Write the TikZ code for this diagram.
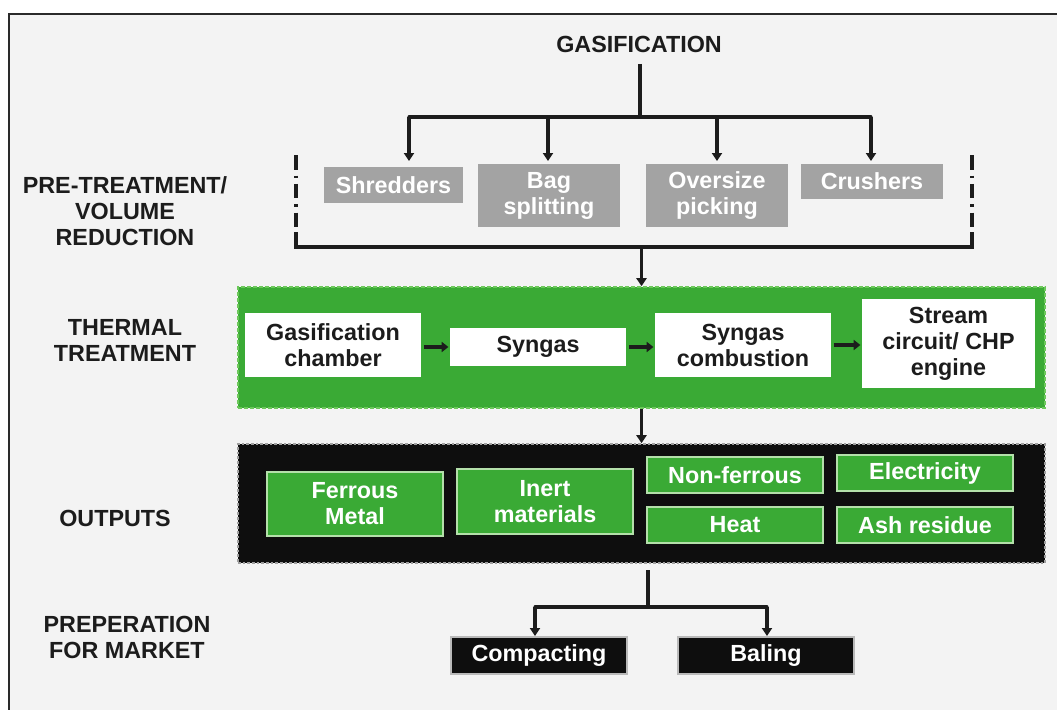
\documentclass[tikz,border=0pt]{standalone}
\usepackage{fontspec}
\setmainfont{Liberation Sans}
\usetikzlibrary{arrows.meta}
\definecolor{bg}{HTML}{F3F3F3}
\definecolor{frame}{HTML}{2A2A2A}
\definecolor{ink}{HTML}{1C1C1C}
\definecolor{gbox}{HTML}{A3A3A3}
\definecolor{grn}{HTML}{3AAA35}
\definecolor{grnedge}{HTML}{6CC85A}
\definecolor{grnline}{HTML}{B4E0AA}
\definecolor{blk}{HTML}{0E0E0E}
\tikzset{
  every node/.style={font=\bfseries\fontsize{17.5}{19.5}\selectfont, align=center, inner sep=0pt},
  sz/.style 2 args={minimum width=#1*0.75pt, minimum height=#2*0.75pt},
  line/.style={draw=ink, line width=2.3pt},
  arr/.style={draw=ink, line width=2.3pt, -{Triangle[width=7.5pt,length=6pt]}},
  sarr/.style={draw=ink, line width=2.6pt, -{Triangle[width=7.5pt,length=5pt]}},
  label/.style={text=ink},
  graybox/.style={fill=gbox, text=white},
  whitebox/.style={fill=white, text=ink},
  thermbox/.style={fill=grn, draw=grnedge, line width=1.2pt, dash pattern=on 3pt off 1.5pt},
  outbox/.style={fill=blk, draw=gray!75, line width=1.2pt, dash pattern=on 2pt off 1.5pt},
  greenbox/.style={fill=grn, draw=grnline, line width=1.3pt, text=white},
  blackbox/.style={fill=blk, draw=gray!55, line width=0.8pt, text=white},
}
\begin{document}
\begin{tikzpicture}[x=0.75pt,y=-0.75pt]
\useasboundingbox (0,0) rectangle (1057,710);
% frame and background
\fill[bg] (9,14) rectangle (1057,710);
\draw[draw=frame, line width=2.2pt] (9,710) -- (9,14) -- (1057,14);

% left labels
\node[label] (lpre) at (125,211) {PRE-TREATMENT/\\VOLUME\\REDUCTION};
\node[label] (lthe) at (125,340) {THERMAL\\TREATMENT};
\node[label] (lout) at (115,518) {OUTPUTS};
\node[label] (lmkt) at (127,637) {PREPERATION\\FOR MARKET};

% title
\node[label] (gas) at (639,44) {GASIFICATION};

% pre-treatment boxes
\node[graybox, sz={139}{36}] (shred) at (393.5,185) {Shredders};
\node[graybox, sz={142}{63}] (bag) at (549,195.5) {Bag\\splitting};
\node[graybox, sz={142}{63}] (over) at (717,195.5) {Oversize\\picking};
\node[graybox, sz={142}{35}] (crush) at (872,181.5) {Crushers};

% top tree
\coordinate (g1) at (640,64);
\coordinate (g2) at (640,117);
\coordinate (b1) at (409,117);
\coordinate (b4) at (871,117);
\coordinate (a1) at (409,161);
\coordinate (a2) at (548,161);
\coordinate (a3) at (717,161);
\coordinate (a4) at (871,161);
\draw[line] (g1) -- (g2);
\draw[line, line cap=round] (b1) -- (b4);
\draw[arr] (b1) -- (a1);
\draw[arr] (a2 |- b1) -- (a2);
\draw[arr] (a3 |- b1) -- (a3);
\draw[arr] (b4) -- (a4);

% bracket
\draw[line, dash pattern=on 11pt off 4.5pt on 1.6pt off 4.5pt] (296,155) -- (296,233);
\draw[line, dash pattern=on 11pt off 4.5pt on 1.6pt off 4.5pt] (972,155) -- (972,233);
\draw[line] (296,232) -- (296,247) -- (972,247) -- (972,232);
\coordinate (p1) at (641.5,247);

% thermal treatment
\node[thermbox, sz={807}{121}] (therm) at (641.5,347.5) {};
\draw[arr] (p1) -- (therm.north);
\node[whitebox, sz={176}{64}] (gcham) at (333,345) {Gasification\\chamber};
\node[whitebox, sz={176}{38}] (syn) at (538,347) {Syngas};
\node[whitebox, sz={176}{64}] (scomb) at (743,345) {Syngas\\combustion};
\node[whitebox, sz={173}{89}] (stream) at (948.5,343.5) {Stream\\circuit/ CHP\\engine};
\draw[sarr, shorten <=2pt, shorten >=1pt] (gcham.east |- syn.west) -- (syn.west);
\draw[sarr, shorten <=2pt, shorten >=1pt] (syn.east) -- (syn.east -| scomb.west);
\draw[sarr, shorten <=2pt, shorten >=1pt] (scomb.east) -- (scomb.east -| stream.west);

% outputs
\node[outbox, sz={807}{119}] (outs) at (641.5,503.5) {};
\draw[arr] (therm.south) -- (outs.north);
\node[greenbox, sz={176}{64}] (ferr) at (355,504) {Ferrous\\Metal};
\node[greenbox, sz={176}{65}] (inert) at (545,501.5) {Inert\\materials};
\node[greenbox, sz={176}{36}] (nonf) at (735,475) {Non-ferrous};
\node[greenbox, sz={176}{36}] (heat) at (735,525) {Heat};
\node[greenbox, sz={176}{36}] (elec) at (925,473) {Electricity};
\node[greenbox, sz={176}{36}] (ash) at (925,525) {Ash residue};

% market
\node[blackbox, sz={176}{37}] (comp) at (539,655.5) {Compacting};
\node[blackbox, sz={176}{37}] (bal) at (766,655.5) {Baling};
\coordinate (m0) at (648,570);
\coordinate (m1) at (648,607);
\coordinate (c1) at (535,607);
\coordinate (c2) at (767,607);
\coordinate (d1) at (535,636);
\coordinate (d2) at (767,636);
\draw[line] (m0) -- (m1);
\draw[line, line cap=round] (c1) -- (c2);
\draw[arr] (c1) -- (d1);
\draw[arr] (c2) -- (d2);
\end{tikzpicture}
\end{document}
